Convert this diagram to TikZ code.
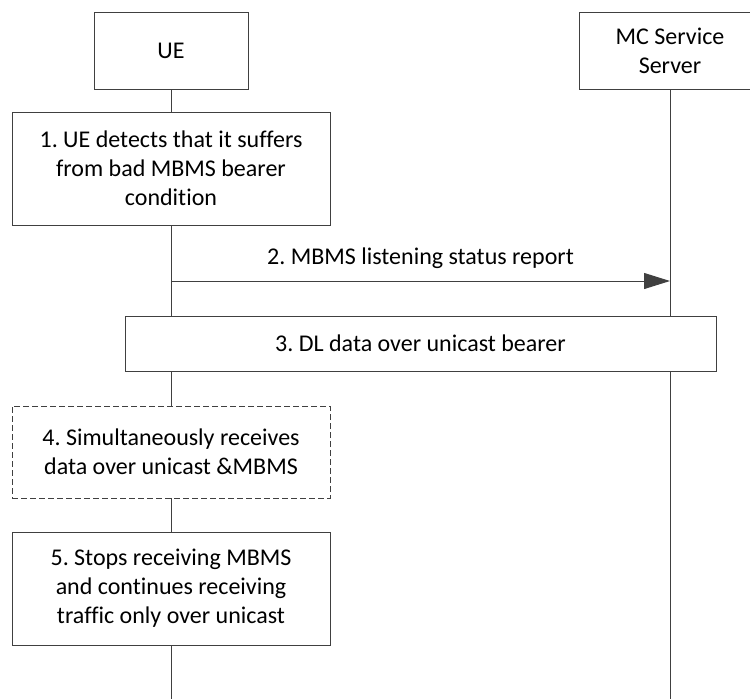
\documentclass[tikz,border=0pt]{standalone}
\usepackage{fontspec}
\setmainfont{Carlito}[RawFeature={-liga}]
\frenchspacing
\usetikzlibrary{arrows.meta,backgrounds}
\definecolor{linegray}{HTML}{404040}
\tikzset{
  box/.style={draw=linegray, line width=1pt, fill=white, align=center, inner sep=0pt,
    font=\fontsize{24}{29}\selectfont, text=black},
  dashbox/.style={box, dash pattern=on 6pt off 3pt},
  life/.style={draw=linegray, line width=1pt},
  msg/.style={draw=linegray, line width=1pt, -{Triangle[length=26pt,width=16pt,fill=linegray]}},
  lbl/.style={font=\fontsize{24}{29}\selectfont, text=black, inner sep=0pt}
}
\begin{document}
\frenchspacing
\begin{tikzpicture}[x=1pt,y=-1pt]
\useasboundingbox (0,0) rectangle (750,699);
\node[box, minimum width=154pt, minimum height=77pt] (ue) at (171,50.5) {UE};
\node[box, minimum width=182pt, minimum height=77pt] (mc) at (670,50.5) {MC Service\\Server};
\node[box, minimum width=318pt, minimum height=113pt] (s1) at (171,168.5) {1. UE detects that it suffers\\from bad MBMS bearer\\condition};
\node[box, minimum width=591pt, minimum height=55pt] (s3) at (420.5,343.5) {3. DL data over unicast bearer};
\node[dashbox, minimum width=318pt, minimum height=92pt] (s4) at (171,452) {4. Simultaneously receives\\data over unicast \&MBMS};
\node[box, minimum width=318pt, minimum height=113pt] (s5) at (171,588.5) {5. Stops receiving MBMS\\and continues receiving\\traffic only over unicast};
\coordinate (ueend) at (171,699);
\coordinate (mcend) at (670,699);
\coordinate (a2s) at (171,281);
\coordinate (a2e) at (670,281);
\begin{scope}[on background layer]
\draw[life] (ue.south) -- (ueend);
\draw[life] (mc.south) -- (mcend);
\end{scope}
\draw[msg] (a2s) -- node[lbl, above=12pt] (l2) {2. MBMS listening status report} (a2e);
\end{tikzpicture}
\end{document}
